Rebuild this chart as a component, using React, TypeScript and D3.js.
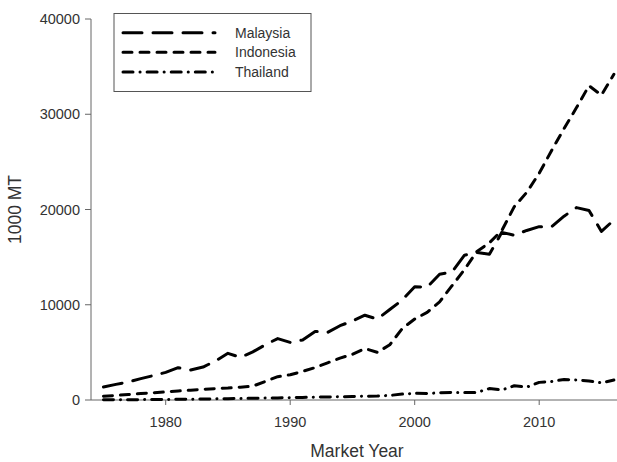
import React from "react";
import * as d3 from "d3";

// Palm oil production by country, marketing years 1975–2016 (1000 MT)
const years = [
  1975, 1976, 1977, 1978, 1979, 1980, 1981, 1982, 1983, 1984, 1985, 1986,
  1987, 1988, 1989, 1990, 1991, 1992, 1993, 1994, 1995, 1996, 1997, 1998,
  1999, 2000, 2001, 2002, 2003, 2004, 2005, 2006, 2007, 2008, 2009, 2010,
  2011, 2012, 2013, 2014, 2015, 2016,
];

const malaysia = [
  1370, 1640, 1890, 2240, 2560, 2900, 3390, 3150, 3460, 4100, 4900, 4480,
  5050, 5800, 6450, 6050, 6300, 7200, 7100, 7800, 8300, 8900, 8500, 9500,
  10500, 11900, 11850, 13200, 13450, 15200, 15500, 15300, 17600, 17300, 17800, 18200,
  18200, 19300, 20200, 19900, 17700, 18900,
];

const indonesia = [
  400, 480, 570, 680, 760, 850, 950, 1030, 1120, 1200, 1250, 1350,
  1450, 1950, 2450, 2650, 3000, 3400, 3900, 4400, 4800, 5400, 5000, 5800,
  7500, 8500, 9200, 10300, 12000, 13700, 15600, 16500, 17800, 20300, 21800, 23800,
  26200, 28500, 30700, 33000, 32000, 34200,
];

const thailand = [
  20, 25, 30, 40, 50, 60, 70, 80, 100, 120, 140, 160,
  180, 200, 220, 240, 270, 300, 320, 340, 360, 400, 420, 480,
  620, 700, 680, 760, 800, 800, 800, 1200, 1050, 1500, 1350, 1850,
  1950, 2150, 2100, 2000, 1800, 2100,
];

const seriesNames = ["Malaysia", "Indonesia", "Thailand"];
const seriesValues = [malaysia, indonesia, thailand];
const dashPatterns = ["19 11", "9 8", "10 7 0.1 7"];

const xTicks = [1980, 1990, 2000, 2010];
const yTicks = [0, 10000, 20000, 30000, 40000];

const W = 617;
const H = 462;
const FONT = "'Liberation Sans', Arial, Helvetica, sans-serif";

export default function App() {
  const x = d3.scaleLinear().domain([1974, 2016.25]).range([91, 617]);
  const y = d3.scaleLinear().domain([0, 40000]).range([400, 19]);

  const line = d3
    .line<number>()
    .x((_, i) => x(years[i]))
    .y((d) => y(d));

  const axisColor = "#666";
  const textColor = "#333";

  const legendX0 = 123;
  const legendX1 = 215;
  const legendRows = [32.7, 52.3, 72];

  return (
    <svg
      width={W}
      height={H}
      viewBox={`0 0 ${W} ${H}`}
      style={{ position: "absolute", left: 0, top: 0, background: "#fff" }}
      fontFamily={FONT}
    >
      <rect x={0} y={0} width={W} height={H} fill="#fff" />

      {/* y axis */}
      <line x1={91} x2={91} y1={y(40000)} y2={y(0)} stroke={axisColor} strokeWidth={1} />
      {yTicks.map((t) => (
        <g key={t}>
          <line x1={85} x2={91} y1={y(t)} y2={y(t)} stroke={axisColor} strokeWidth={1} />
          <text
            x={80}
            y={y(t)}
            dy="0.35em"
            textAnchor="end"
            fontSize={14.5}
            fill={textColor}
          >
            {t}
          </text>
        </g>
      ))}

      {/* x axis */}
      <line x1={91} x2={617} y1={y(0)} y2={y(0)} stroke={axisColor} strokeWidth={1} />
      {xTicks.map((t) => (
        <g key={t}>
          <line x1={x(t)} x2={x(t)} y1={y(0)} y2={y(0) + 5} stroke={axisColor} strokeWidth={1} />
          <text x={x(t)} y={427} textAnchor="middle" fontSize={14.5} fill={textColor}>
            {t}
          </text>
        </g>
      ))}

      {/* axis titles */}
      <text x={357} y={457} textAnchor="middle" fontSize={17.5} fill={textColor}>
        Market Year
      </text>
      <text
        transform={`translate(21, ${(y(0) + y(40000)) / 2}) rotate(-90)`}
        textAnchor="middle"
        fontSize={17.5}
        fill={textColor}
      >
        1000 MT
      </text>

      {/* series */}
      {seriesValues.map((vals, i) => (
        <path
          key={seriesNames[i]}
          d={line(vals) ?? undefined}
          fill="none"
          stroke="#000"
          strokeWidth={3}
          strokeDasharray={dashPatterns[i]}
          strokeLinecap="round"
          strokeLinejoin="round"
        />
      ))}

      {/* legend */}
      <rect x={114} y={13.5} width={197} height={78} fill="#fff" stroke="#555" strokeWidth={1} />
      {seriesNames.map((name, i) => (
        <g key={name}>
          <line
            x1={legendX0}
            x2={legendX1}
            y1={legendRows[i]}
            y2={legendRows[i]}
            stroke="#000"
            strokeWidth={3}
            strokeDasharray={dashPatterns[i]}
            strokeLinecap="round"
          />
          <text x={235} y={legendRows[i] + 5} fontSize={14} fill={textColor}>
            {name}
          </text>
        </g>
      ))}
    </svg>
  );
}
